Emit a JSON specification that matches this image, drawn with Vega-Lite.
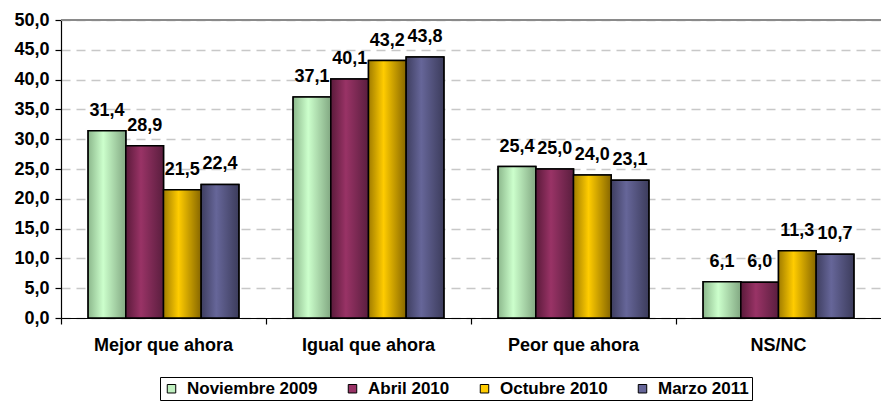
{
  "$schema": "https://vega.github.io/schema/vega-lite/v6.json",
  "width": 820,
  "height": 298,
  "autosize": {"type": "none"},
  "padding": {"left": 61, "top": 20, "right": 0, "bottom": 84},
  "config": {
    "font": "Liberation Sans",
    "view": {"stroke": null},
    "locale": {"number": {"decimal": ",", "thousands": ".", "grouping": [3], "currency": ["", " €"]}},
    "axisY": {"tickCount": 12, "labelOverlap": false, "format": ".1f"}
  },
  "datasets": {
    "valores": [
      {"categoria": "Mejor que ahora", "serie": "Noviembre 2009", "valor": 31.4},
      {"categoria": "Mejor que ahora", "serie": "Abril 2010", "valor": 28.9},
      {"categoria": "Mejor que ahora", "serie": "Octubre 2010", "valor": 21.5},
      {"categoria": "Mejor que ahora", "serie": "Marzo 2011", "valor": 22.4},
      {"categoria": "Igual que ahora", "serie": "Noviembre 2009", "valor": 37.1},
      {"categoria": "Igual que ahora", "serie": "Abril 2010", "valor": 40.1},
      {"categoria": "Igual que ahora", "serie": "Octubre 2010", "valor": 43.2},
      {"categoria": "Igual que ahora", "serie": "Marzo 2011", "valor": 43.8},
      {"categoria": "Peor que ahora", "serie": "Noviembre 2009", "valor": 25.4},
      {"categoria": "Peor que ahora", "serie": "Abril 2010", "valor": 25.0},
      {"categoria": "Peor que ahora", "serie": "Octubre 2010", "valor": 24.0},
      {"categoria": "Peor que ahora", "serie": "Marzo 2011", "valor": 23.1},
      {"categoria": "NS/NC", "serie": "Noviembre 2009", "valor": 6.1},
      {"categoria": "NS/NC", "serie": "Abril 2010", "valor": 6.0},
      {"categoria": "NS/NC", "serie": "Octubre 2010", "valor": 11.3},
      {"categoria": "NS/NC", "serie": "Marzo 2011", "valor": 10.7}
    ],
    "limite": [{"tope": 50}]
  },
  "layer": [
    {
      "data": {"name": "limite"},
      "mark": {"type": "rule", "color": "#8a8a8a", "strokeWidth": 2},
      "encoding": {
        "y": {
          "field": "tope", "type": "quantitative", "scale": {"domain": [0, 50], "nice": false},
          "axis": {
            "title": null, "values": [0, 5, 10, 15, 20, 25, 30, 35, 40, 45, 50], "tickCount": 12,
            "format": ".1f", "labelOverlap": false,
            "domainColor": "#000000", "domainWidth": 1.2,
            "tickColor": "#000000", "tickSize": 6, "tickWidth": 1.2,
            "labelFont": "Liberation Sans", "labelFontSize": 18, "labelFontWeight": "bold",
            "labelColor": "#000000", "labelPadding": 6,
            "grid": true, "gridColor": "#c8c8c8", "gridDash": [9, 6], "gridWidth": 1.5
          }
        }
      }
    },
    {
      "data": {"name": "valores"},
      "mark": {"type": "bar", "stroke": "#000000", "strokeWidth": 1.5},
      "encoding": {
        "x": {
          "field": "categoria", "type": "nominal",
          "sort": ["Mejor que ahora", "Igual que ahora", "Peor que ahora", "NS/NC"],
          "scale": {"domain": ["Mejor que ahora", "Igual que ahora", "Peor que ahora", "NS/NC"], "paddingInner": 0, "paddingOuter": 0},
          "axis": {
            "title": null, "labelAngle": 0, "bandPosition": 0,
            "domainColor": "#000000", "domainWidth": 1.2,
            "tickColor": "#000000", "tickSize": 6, "tickWidth": 1.2,
            "labelFont": "Liberation Sans", "labelFontSize": 18, "labelFontWeight": "bold",
            "labelColor": "#000000", "labelPadding": 12, "grid": false
          }
        },
        "xOffset": {
          "field": "serie", "type": "nominal",
          "scale": {"domain": ["Noviembre 2009", "Abril 2010", "Octubre 2010", "Marzo 2011"], "paddingInner": 0, "paddingOuter": 0.72}
        },
        "y": {
          "field": "valor", "type": "quantitative",
          "scale": {"domain": [0, 50], "nice": false},
          "axis": {
            "title": null, "values": [0, 5, 10, 15, 20, 25, 30, 35, 40, 45, 50], "tickCount": 12,
            "format": ".1f", "labelOverlap": false,
            "domainColor": "#000000", "domainWidth": 1.2,
            "tickColor": "#000000", "tickSize": 6, "tickWidth": 1.2,
            "labelFont": "Liberation Sans", "labelFontSize": 18, "labelFontWeight": "bold",
            "labelColor": "#000000", "labelPadding": 6,
            "grid": true, "gridColor": "#c8c8c8", "gridDash": [9, 6], "gridWidth": 1.5
          }
        },
        "color": {
          "field": "serie", "type": "nominal",
          "scale": {
            "domain": ["Noviembre 2009", "Abril 2010", "Octubre 2010", "Marzo 2011"],
            "range": ["#c0f0c0", "#993366", "#ffcc00", "#666699"]
          },
          "legend": {
            "title": null, "orient": "none", "direction": "horizontal",
            "legendX": 99, "legendY": 357,
            "padding": 3, "strokeColor": "#000000",
            "symbolType": "square", "symbolSize": 72, "symbolStrokeColor": "#000000", "symbolStrokeWidth": 1,
            "symbolOpacity": 1,
            "labelFont": "Liberation Sans", "labelFontSize": 17, "labelFontWeight": "bold", "labelColor": "#000000",
            "labelOffset": 7, "columnPadding": 26, "labelLimit": 300
          }
        }
      }
    },
    {
      "data": {"name": "valores"},
      "transform": [{"filter": "datum.serie === 'Noviembre 2009'"}],
      "mark": {"type": "bar", "stroke": "#000000", "strokeWidth": 1.5,
        "color": {"gradient": "linear", "stops": [{"offset": 0, "color": "#8cb88c"}, {"offset": 0.4, "color": "#ccffcc"}, {"offset": 1, "color": "#82a882"}]}},
      "encoding": {
        "x": {"field": "categoria", "type": "nominal"},
        "xOffset": {"field": "serie", "type": "nominal"},
        "y": {"field": "valor", "type": "quantitative"}
      }
    },
    {
      "data": {"name": "valores"},
      "transform": [{"filter": "datum.serie === 'Abril 2010'"}],
      "mark": {"type": "bar", "stroke": "#000000", "strokeWidth": 1.5,
        "color": {"gradient": "linear", "stops": [{"offset": 0, "color": "#5a1a3a"}, {"offset": 0.4, "color": "#993366"}, {"offset": 1, "color": "#5a1e3e"}]}},
      "encoding": {
        "x": {"field": "categoria", "type": "nominal"},
        "xOffset": {"field": "serie", "type": "nominal"},
        "y": {"field": "valor", "type": "quantitative"}
      }
    },
    {
      "data": {"name": "valores"},
      "transform": [{"filter": "datum.serie === 'Octubre 2010'"}],
      "mark": {"type": "bar", "stroke": "#000000", "strokeWidth": 1.5,
        "color": {"gradient": "linear", "stops": [{"offset": 0, "color": "#a07c00"}, {"offset": 0.4, "color": "#ffcc00"}, {"offset": 1, "color": "#866600"}]}},
      "encoding": {
        "x": {"field": "categoria", "type": "nominal"},
        "xOffset": {"field": "serie", "type": "nominal"},
        "y": {"field": "valor", "type": "quantitative"}
      }
    },
    {
      "data": {"name": "valores"},
      "transform": [{"filter": "datum.serie === 'Marzo 2011'"}],
      "mark": {"type": "bar", "stroke": "#000000", "strokeWidth": 1.5,
        "color": {"gradient": "linear", "stops": [{"offset": 0, "color": "#3e3e60"}, {"offset": 0.4, "color": "#666699"}, {"offset": 1, "color": "#3c3c5c"}]}},
      "encoding": {
        "x": {"field": "categoria", "type": "nominal"},
        "xOffset": {"field": "serie", "type": "nominal"},
        "y": {"field": "valor", "type": "quantitative"}
      }
    },
    {
      "data": {"name": "valores"},
      "mark": {"type": "text", "baseline": "alphabetic", "dy": -15, "font": "Liberation Sans", "fontSize": 18, "fontWeight": "bold", "color": "#000000"},
      "encoding": {
        "x": {"field": "categoria", "type": "nominal"},
        "xOffset": {"field": "serie", "type": "nominal"},
        "y": {"field": "valor", "type": "quantitative"},
        "text": {"field": "valor", "type": "quantitative", "format": ".1f"}
      }
    }
  ]
}
